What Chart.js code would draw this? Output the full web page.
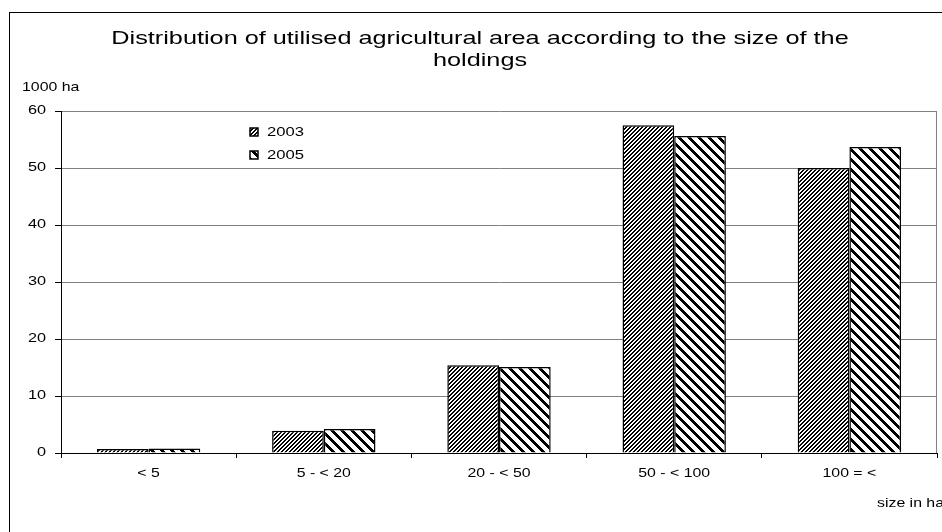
<!DOCTYPE html>
<html>
<head>
<meta charset="utf-8">
<script src="https://cdn.jsdelivr.net/npm/chart.js@4"></script>
<style>
  html, body { margin: 0; padding: 0; background: #fff; }
  #wrap { position: relative; width: 942px; height: 532px; overflow: hidden; }
  #frame { position: absolute; left: 9px; top: 12px; width: 1000px; height: 600px;
           border-left: 1px solid #000; border-top: 1px solid #000; }
  canvas { position: absolute; left: 0; top: 0; }
</style>
</head>
<body>
<div id="wrap">
  <div id="frame"></div>
  <canvas id="chart" width="942" height="532"></canvas>
</div>
<script>
// Data
const categories = ['< 5', '5 - < 20', '20 - < 50', '50 - < 100', '100 = <'];
const years = ['2003', '2005'];
const area2003 = [0.7, 3.9, 15.4, 57.5, 50.0];
const area2005 = [0.8, 4.2, 15.1, 55.6, 53.7];
const yMin = 0, yMax = 60, yStep = 10;
const titleLines = ['Distribution of utilised agricultural area according to the size of the', 'holdings'];
const yUnit = '1000 ha';
const xUnit = 'size in ha';

const FONT = '"Liberation Sans", Arial, sans-serif';
const ctx = document.getElementById('chart').getContext('2d');

// striped fill, dir 1 = "/" and -1 = "\"
function stripes(period, dark, dir) {
    const c = document.createElement('canvas');
    c.width = c.height = period;
    const g = c.getContext('2d');
    const img = g.createImageData(period, period);
    for (let y = 0; y < period; y++) {
        for (let x = 0; x < period; x++) {
            const k = dir > 0 ? (x + y) % period : ((x - y) % period + period) % period;
            const v = k < dark ? 0 : 255;
            const i = (y * period + x) * 4;
            img.data[i] = img.data[i + 1] = img.data[i + 2] = v;
            img.data[i + 3] = 255;
        }
    }
    g.putImageData(img, 0, 0);
    return ctx.createPattern(c, 'repeat');
}

const fills = [stripes(4, 2, 1), stripes(10, 4, -1)];

// the original text is drawn a bit wide, so stretch it horizontally
function wideText(c, text, x, y, size, sx, align) {
    c.save();
    c.font = size + 'px ' + FONT;
    c.textAlign = align;
    c.textBaseline = 'middle';
    c.translate(x, y);
    c.scale(sx, 1);
    c.fillText(text, 0, 0);
    c.restore();
}

// title, tick labels, unit labels, legend and right plot border
const decor = {
    id: 'decor',
    afterDraw(chart) {
        const c = chart.ctx, a = chart.chartArea;
        const xs = chart.scales.x, ys = chart.scales.y;
        c.save();
        c.strokeStyle = '#808080';
        c.lineWidth = 1;
        c.beginPath();
        const rx = Math.round(a.right) - 0.5;
        c.moveTo(rx, a.top);
        c.lineTo(rx, a.bottom);
        c.stroke();

        c.fillStyle = '#000';
        titleLines.forEach((t, i) => wideText(c, t, 480, 39 + i * 22, 19, 1.33, 'center'));

        ys.ticks.forEach(t => wideText(c, String(t.value), 46, ys.getPixelForValue(t.value), 12.5, 1.3, 'right'));
        chart.data.labels.forEach((l, i) => wideText(c, l, xs.getPixelForTick(i), a.bottom + 20, 13, 1.22, 'center'));

        wideText(c, yUnit, 22, 87, 13, 1.22, 'left');
        wideText(c, xUnit, 877, 503, 13, 1.22, 'left');

        chart.data.datasets.forEach((ds, i) => {
            const y = 132 + i * 23;
            c.fillStyle = ds.backgroundColor;
            c.fillRect(250, y - 4, 8, 8);
            c.strokeStyle = '#000';
            c.lineWidth = 1.5;
            c.strokeRect(250, y - 4, 8, 8);
            c.fillStyle = '#000';
            wideText(c, ds.label, 267, y, 13, 1.28, 'left');
        });
        c.restore();
    }
};

new Chart(ctx, {
    type: 'bar',
    data: {
        labels: categories,
        datasets: [
            { label: years[0], data: area2003, backgroundColor: fills[0], borderColor: '#000', borderWidth: 1.5 },
            { label: years[1], data: area2005, backgroundColor: fills[1], borderColor: '#000', borderWidth: 1.5 }
        ]
    },
    options: {
        responsive: false,
        animation: false,
        devicePixelRatio: 1,
        layout: { padding: { left: 0, top: 111, right: 5, bottom: 0 } },
        datasets: { bar: { categoryPercentage: 0.59, barPercentage: 1.0 } },
        plugins: {
            legend: { display: false },
            tooltip: { enabled: false },
            title: { display: false }
        },
        scales: {
            x: {
                grid: { drawOnChartArea: false, tickLength: 5, tickColor: '#000', offset: true },
                border: { color: '#000', width: 1 },
                ticks: { display: false },
                afterFit(s) { s.height = 79; }
            },
            y: {
                min: yMin, max: yMax,
                grid: { color: '#808080', tickLength: 6, tickColor: '#000' },
                border: { color: '#000', width: 1 },
                ticks: { display: false, stepSize: yStep },
                afterFit(s) { s.width = 61; }
            }
        }
    },
    plugins: [decor]
});
</script>
</body>
</html>
